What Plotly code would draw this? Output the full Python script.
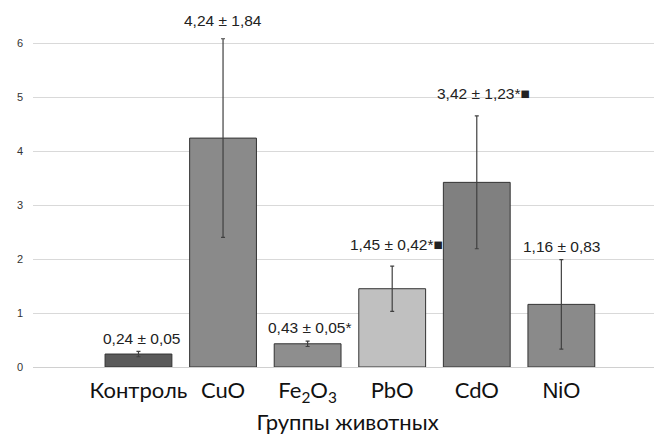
import plotly.graph_objects as go

categories = ["Контроль", "CuO", "Fe<sub>2</sub>O<sub>3</sub>", "PbO", "CdO",
              "<span style='font-family:Liberation Sans, Arial'>NiO</span>"]
means = [0.24, 4.24, 0.43, 1.45, 3.42, 1.16]
errors = [0.05, 1.84, 0.05, 0.42, 1.23, 0.83]
labels = ["0,24 ± 0,05", "4,24 ± 1,84", "0,43 ± 0,05*", "1,45 ± 0,42*■",
          "3,42 ± 1,23*■", "1,16 ± 0,83"]
label_x = [0.03, 1.0, 2.03, 3.05, 4.08, 5.0]
label_y = [0.52, 6.41, 0.74, 2.26, 5.07, 2.24]
colors = ["#5a5a5a", "#8a8a8a", "#8e8e8e", "#c0c0c0", "#808080", "#8a8a8a"]
xpos = list(range(len(categories)))

fig = go.Figure()
fig.add_trace(go.Bar(
    x=xpos, y=means, width=0.79,
    marker=dict(color=colors, line=dict(color="#333333", width=1)),
    error_y=dict(type="data", array=errors, visible=True, color="#404040",
                 thickness=1.2, width=2),
    cliponaxis=False, showlegend=False,
))

for x, y, t in zip(label_x, label_y, labels):
    fig.add_annotation(x=x, y=y, text=t, showarrow=False,
                       font=dict(family="Liberation Sans, Arial", size=15.5, color="#222222"),
                       xanchor="center", yanchor="middle")

fig.update_layout(
    width=662, height=435,
    margin=dict(l=25, r=8, t=0, b=76),
    paper_bgcolor="white", plot_bgcolor="white",
    xaxis=dict(range=[-1.247, 6.19], tickvals=xpos, ticktext=categories,
               showgrid=False, zeroline=False, showline=False, ticks="",
               ticklabelstandoff=8,
               tickfont=dict(family="Lato, Noto Sans", size=22, color="#111111"),
               title=dict(text="Группы животных", standoff=9,
                          font=dict(family="Lato, Noto Sans", size=22, color="#111111"))),
    yaxis=dict(range=[0, 6.65], tickvals=[0, 1, 2, 3, 4, 5, 6],
               showgrid=True, gridcolor="#d9d9d9", gridwidth=1,
               zeroline=True, zerolinecolor="#d0d0d0", zerolinewidth=1,
               showline=False, ticks="", ticklabelstandoff=9,
               tickfont=dict(family="Liberation Sans, Arial", size=11, color="#333333")),
)

fig.write_html("out.html")
